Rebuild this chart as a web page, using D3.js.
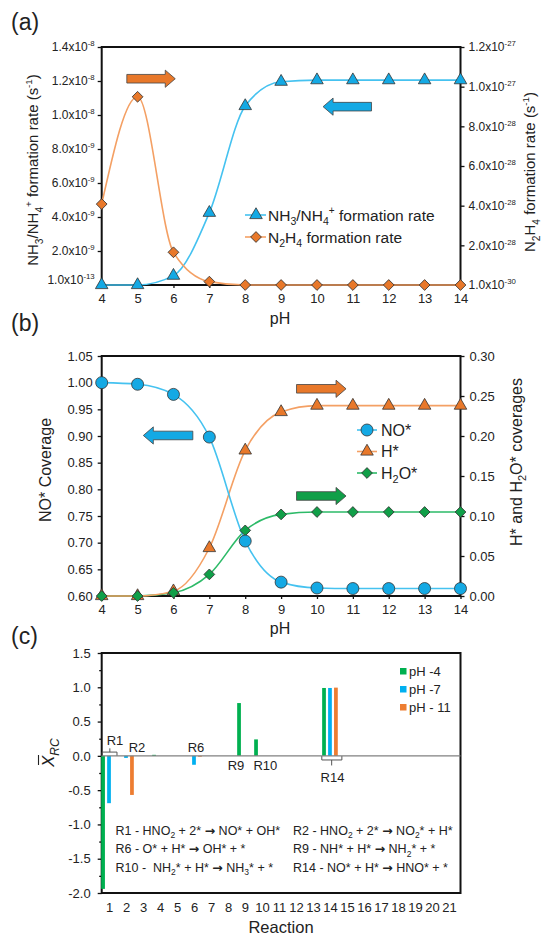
<!DOCTYPE html>
<html>
<head>
<meta charset="utf-8">
<script src="https://cdn.jsdelivr.net/npm/d3@7"></script>
<style>
  body { margin: 0; background: #fff; }
  svg { display: block; }
  text { font-family: Arial, "Liberation Sans", sans-serif; fill: #222; }
</style>
</head>
<body>
<svg id="fig" width="543" height="936"></svg>
<script>
// ---------- data ----------
const pH = [4, 5, 6, 7, 8, 9, 10, 11, 12, 13, 14];

// (a) formation rates, s^-1
const nh3Rate  = [0, 0, 5.5e-10, 4.25e-9, 1.053e-8, 1.196e-8, 1.205e-8, 1.205e-8, 1.205e-8, 1.205e-8, 1.205e-8];
const n2h4Rate = [4.08e-28, 9.49e-28, 1.65e-28, 1.7e-29, 0, 0, 0, 0, 0, 0, 0];
const rateLeftTicks  = [1e-13, 2e-9, 4e-9, 6e-9, 8e-9, 1e-8, 1.2e-8, 1.4e-8];
const rateRightTicks = [1e-30, 2e-28, 4e-28, 6e-28, 8e-28, 1e-27, 1.2e-27];

// (b) surface coverages
const noCov  = [1.000, 0.997, 0.978, 0.898, 0.703, 0.626, 0.615, 0.614, 0.614, 0.614, 0.614];
const hCov   = [0, 0, 0.006, 0.060, 0.182, 0.230, 0.238, 0.238, 0.238, 0.238, 0.238];
const h2oCov = [0, 0, 0.004, 0.027, 0.082, 0.102, 0.105, 0.105, 0.105, 0.105, 0.105];
const noTicks = [0.60, 0.65, 0.70, 0.75, 0.80, 0.85, 0.90, 0.95, 1.00, 1.05];
const hTicks  = [0, 0.05, 0.10, 0.15, 0.20, 0.25, 0.30];

// (c) degree of rate control per reaction
const reactions = [1,2,3,4,5,6,7,8,9,10,11,12,13,14,15,16,17,18,19,20,21];
const xrcPH4  = [-1.94, 0, 0, 0.015, 0, 0, 0, 0, 0.77, 0.24, 0, 0, 0, 0.99, 0, 0, 0, 0, 0, 0, 0];
const xrcPH7  = [-0.69, -0.03, 0, 0, 0, -0.13, 0, 0, 0, 0, 0, 0, 0, 0.99, 0, 0, 0, 0, 0, 0, 0];
const xrcPH11 = [0, -0.57, 0, 0, 0, -0.012, 0, 0, 0, 0, 0, 0, 0, 0.995, 0, 0, 0, 0, 0, 0, 0];
const xrcSeriesNames = ["pH -4", "pH -7", "pH - 11"];
const xrcTicks = [-2.0, -1.5, -1.0, -0.5, 0.0, 0.5, 1.0, 1.5];
const xrcMinorTicks = [-1.75, -1.25, -0.75, -0.25, 0.25, 0.75, 1.25];
const reactionLabels = [
  { text: "R1",  r: 1.35,  v: 0.16 },
  { text: "R2",  r: 2.65,  v: 0.06 },
  { text: "R6",  r: 6.12,  v: 0.06 },
  { text: "R9",  r: 8.47,  v: -0.21 },
  { text: "R10", r: 10.2,  v: -0.21 },
  { text: "R14", r: 14.15, v: -0.38 }
];
const equationsLeft  = ["R1 - HNO_{2} + 2* \u2192 NO* + OH*", "R6 - O* + H* \u2192 OH* + *", "R10 -  NH_{2}* + H* \u2192 NH_{3}* + *"];
const equationsRight = ["R2 - HNO_{2} + 2* \u2192 NO_{2}* + H*", "R9 - NH* + H* \u2192 NH_{2}* + *", "R14 - NO* + H* \u2192 HNO* + *"];

// ---------- styles ----------
const C = {
  blueFill: "#14A9E4", blueLine: "#45C2F0",
  orangeFill: "#E8782A", orangeLine: "#F4A064",
  greenFill: "#109F48", greenLine: "#2DBA68",
  barGreen: "#00B050", barBlue: "#00B0F0", barOrange: "#ED7D31",
  edge: "#333"
};
const xL = 101.7, xR = 460.5;
const svg = d3.select("#fig");
svg.append("rect").attr("width", 543).attr("height", 936).attr("fill", "#fff");

// text with _{sub} and ^{sup} runs; arrows get a font with a fuller glyph
function rich(sel, str, fs) {
  const parts = str.split(/(_\{[^}]*\}|\^\{[^}]*\})/).filter(s => s.length);
  let shift = 0;
  parts.forEach(p => {
    let t, target, size;
    if (p.startsWith("_{")) { t = p.slice(2, -1); target = 0.28 * fs; size = 0.68 * fs; }
    else if (p.startsWith("^{")) { t = p.slice(2, -1); target = -0.42 * fs; size = 0.65 * fs; }
    else { t = p; target = 0; size = fs; }
    const pieces = t.split(/(\u2192)/).filter(s => s.length);
    pieces.forEach((piece, k) => {
      const ts = sel.append("tspan").attr("font-size", size).text(piece);
      if (piece === "\u2192") ts.attr("font-family", "'DejaVu Sans', sans-serif").attr("font-weight", "bold");
      if (k === 0 && target - shift !== 0) ts.attr("dy", target - shift);
    });
    shift = target;
  });
  return sel;
}
function richTicks(g, fs) {
  g.selectAll(".tick text").each(function () {
    const t = d3.select(this); const s = t.text();
    t.text(null); rich(t, s, fs);
  });
}
function styleAxis(g, fs) {
  g.select(".domain").remove();
  g.selectAll(".tick line").attr("stroke", "#111").attr("stroke-width", 1.3);
  g.selectAll(".tick text").attr("font-size", fs).attr("fill", "#222")
    .attr("font-family", "Arial, 'Liberation Sans', sans-serif");
}
function frame(top, bottom) {
  svg.append("rect").attr("x", xL).attr("y", top).attr("width", xR - xL).attr("height", bottom - top)
    .attr("fill", "none").attr("stroke", "#111").attr("stroke-width", 2);
}
function vTitle(x, y, str, fs) {
  const t = svg.append("text").attr("transform", `translate(${x + 0.36 * fs},${y}) rotate(-90)`)
    .attr("text-anchor", "middle").attr("font-size", fs);
  rich(t, str, fs);
}
function blockArrow(x0, x1, yc, color) {
  const dir = Math.sign(x1 - x0), bh = 4.3, hh = 8.6, hl = 10;
  const xh = x1 - dir * hl;
  const pts = [[x0, yc - bh], [xh, yc - bh], [xh, yc - hh], [x1, yc], [xh, yc + hh], [xh, yc + bh], [x0, yc + bh]];
  svg.append("path").attr("d", "M" + pts.map(p => p.join(",")).join("L") + "Z")
    .attr("fill", color).attr("stroke", "#444").attr("stroke-width", 0.8);
}
const expLabel = v => { const [m, e] = v.toExponential(1).split("e"); return `${m}x10^{${+e}}`; };
const sym = (type, size) => d3.symbol().type(type).size(size)();

// ---------- (a) ----------
{
  const top = 47, bottom = 285;
  const x = d3.scaleLinear().domain([4, 14]).range([xL, xR]);
  const yL = d3.scaleLinear().domain([0, 1.4e-8]).range([bottom, top]);
  const yR = d3.scaleLinear().domain([0, 1.2e-27]).range([bottom, top]);

  frame(top, bottom);
  const gx = svg.append("g").attr("transform", `translate(0,${bottom})`)
    .call(d3.axisBottom(x).tickValues(pH).tickSize(3).tickPadding(6).tickSizeOuter(0).tickFormat(d3.format("d")));
  styleAxis(gx, 13);
  const gl = svg.append("g").attr("transform", `translate(${xL},0)`)
    .call(d3.axisLeft(yL).tickValues(rateLeftTicks).tickSize(4).tickPadding(3).tickSizeOuter(0).tickFormat(expLabel));
  styleAxis(gl, 12); richTicks(gl, 12);
  gl.selectAll(".tick text").filter(d => d === 1e-13).attr("dy", "-0.15em");
  const gr = svg.append("g").attr("transform", `translate(${xR},0)`)
    .call(d3.axisRight(yR).tickValues(rateRightTicks).tickSize(4).tickPadding(4).tickSizeOuter(0).tickFormat(expLabel));
  styleAxis(gr, 12); richTicks(gr, 12);

  const lineL = d3.line().x((d, i) => x(pH[i])).y(d => yL(d)).curve(d3.curveMonotoneX);
  const lineR = d3.line().x((d, i) => x(pH[i])).y(d => yR(d)).curve(d3.curveMonotoneX);
  svg.append("path").attr("d", lineL(nh3Rate)).attr("fill", "none").attr("stroke", C.blueLine).attr("stroke-width", 1.6);
  svg.append("path").attr("d", lineR(n2h4Rate)).attr("fill", "none").attr("stroke", C.orangeLine).attr("stroke-width", 1.6);

  svg.append("g").selectAll("path").data(nh3Rate).join("path")
    .attr("transform", (d, i) => `translate(${x(pH[i])},${yL(d)})`)
    .attr("d", sym(d3.symbolTriangle, 68)).attr("fill", C.blueFill).attr("stroke", C.edge).attr("stroke-width", 0.8);
  svg.append("g").selectAll("path").data(n2h4Rate).join("path")
    .attr("transform", (d, i) => `translate(${x(pH[i])},${yR(d)}) rotate(45)`)
    .attr("d", sym(d3.symbolSquare, 58)).attr("fill", C.orangeFill).attr("stroke", C.edge).attr("stroke-width", 0.8);

  blockArrow(x(4.7), x(6.05), yR(1.04e-27), C.orangeFill);
  blockArrow(x(11.52), x(10.17), yL(1.049e-8), C.blueFill);

  // legend
  const leg = [
    { label: "NH_{3}/NH_{4}^{+} formation rate", line: C.blueLine, fill: C.blueFill, kind: "tri" },
    { label: "N_{2}H_{4} formation rate", line: C.orangeLine, fill: C.orangeFill, kind: "dia" }
  ];
  leg.forEach((e, i) => {
    const yc = 215 + i * 22;
    svg.append("line").attr("x1", 245).attr("x2", 266).attr("y1", yc).attr("y2", yc).attr("stroke", e.line).attr("stroke-width", 1.6);
    svg.append("path").attr("transform", `translate(256,${yc})${e.kind === "dia" ? " rotate(45)" : ""}`)
      .attr("d", e.kind === "tri" ? sym(d3.symbolTriangle, 68) : sym(d3.symbolSquare, 58))
      .attr("fill", e.fill).attr("stroke", C.edge).attr("stroke-width", 0.8);
    rich(svg.append("text").attr("x", 268).attr("y", yc + 5.5).attr("font-size", 15.5), e.label, 15.5);
  });

  svg.append("text").attr("x", 280).attr("y", 324).attr("text-anchor", "middle").attr("font-size", 16).text("pH");
  vTitle(33, 170, "NH_{3}/NH_{4}^{+} formation rate (s^{-1})", 15);
  vTitle(530, 172, "N_{2}H_{4} formation rate (s^{-1})", 15);
  svg.append("text").attr("x", 11).attr("y", 30).attr("font-size", 23).text("(a)");
}

// ---------- (b) ----------
{
  const top = 356, bottom = 596;
  const x = d3.scaleLinear().domain([4, 14]).range([xL, xR]);
  const yL = d3.scaleLinear().domain([0.60, 1.05]).range([bottom, top]);
  const yR = d3.scaleLinear().domain([0, 0.30]).range([bottom, top]);

  frame(top, bottom);
  const gx = svg.append("g").attr("transform", `translate(0,${bottom})`)
    .call(d3.axisBottom(x).tickValues(pH).tickSize(3).tickPadding(6).tickSizeOuter(0).tickFormat(d3.format("d")));
  styleAxis(gx, 13);
  const gl = svg.append("g").attr("transform", `translate(${xL},0)`)
    .call(d3.axisLeft(yL).tickValues(noTicks).tickSize(4).tickPadding(5).tickSizeOuter(0).tickFormat(d => d.toFixed(2)));
  styleAxis(gl, 13);
  const gr = svg.append("g").attr("transform", `translate(${xR},0)`)
    .call(d3.axisRight(yR).tickValues(hTicks).tickSize(4).tickPadding(5).tickSizeOuter(0).tickFormat(d => d.toFixed(2)));
  styleAxis(gr, 13);

  const mk = (y) => d3.line().x((d, i) => x(pH[i])).y(d => y(d)).curve(d3.curveMonotoneX);
  svg.append("path").attr("d", mk(yR)(h2oCov)).attr("fill", "none").attr("stroke", C.greenLine).attr("stroke-width", 1.6);
  svg.append("path").attr("d", mk(yR)(hCov)).attr("fill", "none").attr("stroke", C.orangeLine).attr("stroke-width", 1.6);
  svg.append("path").attr("d", mk(yL)(noCov)).attr("fill", "none").attr("stroke", C.blueLine).attr("stroke-width", 1.6);

  svg.append("g").selectAll("path").data(hCov).join("path")
    .attr("transform", (d, i) => `translate(${x(pH[i])},${yR(d)})`)
    .attr("d", sym(d3.symbolTriangle, 68)).attr("fill", C.orangeFill).attr("stroke", C.edge).attr("stroke-width", 0.8);
  svg.append("g").selectAll("path").data(h2oCov).join("path")
    .attr("transform", (d, i) => `translate(${x(pH[i])},${yR(d)}) rotate(45)`)
    .attr("d", sym(d3.symbolSquare, 58)).attr("fill", C.greenFill).attr("stroke", C.edge).attr("stroke-width", 0.8);
  svg.append("g").selectAll("circle").data(noCov).join("circle")
    .attr("cx", (d, i) => x(pH[i])).attr("cy", d => yL(d)).attr("r", 6)
    .attr("fill", C.blueFill).attr("stroke", C.edge).attr("stroke-width", 0.8);

  blockArrow(x(6.54), x(5.16), yL(0.901), C.blueFill);
  blockArrow(x(9.43), x(10.81), yR(0.259), C.orangeFill);
  blockArrow(x(9.43), x(10.81), yR(0.125), C.greenFill);

  const leg = [
    { label: "NO*", line: C.blueLine, fill: C.blueFill, kind: "circ" },
    { label: "H*", line: C.orangeLine, fill: C.orangeFill, kind: "tri" },
    { label: "H_{2}O*", line: C.greenLine, fill: C.greenFill, kind: "dia" }
  ];
  leg.forEach((e, i) => {
    const yc = 430 + i * 21.5;
    svg.append("line").attr("x1", 357).attr("x2", 377).attr("y1", yc).attr("y2", yc).attr("stroke", e.line).attr("stroke-width", 1.6);
    if (e.kind === "circ") {
      svg.append("circle").attr("cx", 367).attr("cy", yc).attr("r", 6).attr("fill", e.fill).attr("stroke", C.edge).attr("stroke-width", 0.8);
    } else {
      svg.append("path").attr("transform", `translate(367,${yc})${e.kind === "dia" ? " rotate(45)" : ""}`)
        .attr("d", e.kind === "tri" ? sym(d3.symbolTriangle, 68) : sym(d3.symbolSquare, 58))
        .attr("fill", e.fill).attr("stroke", C.edge).attr("stroke-width", 0.8);
    }
    rich(svg.append("text").attr("x", 381).attr("y", yc + 5.8).attr("font-size", 16), e.label, 16);
  });

  svg.append("text").attr("x", 280).attr("y", 634).attr("text-anchor", "middle").attr("font-size", 16).text("pH");
  vTitle(45, 470, "NO* Coverage", 16);
  vTitle(516, 462, "H* and H_{2}O* coverages", 16);
  svg.append("text").attr("x", 11).attr("y", 331).attr("font-size", 23).text("(b)");
}

// ---------- (c) ----------
{
  const top = 653, bottom = 893;
  const x = d3.scaleLinear().domain([0.57, 21.68]).range([xL, xR]);
  const y = d3.scaleLinear().domain([-2.0, 1.5]).range([bottom, top]);

  frame(top, bottom);
  const gx = svg.append("g").attr("transform", `translate(0,${bottom})`)
    .call(d3.axisBottom(x).tickValues(reactions).tickSize(0).tickPadding(10).tickFormat(d3.format("d")));
  styleAxis(gx, 13);
  const gl = svg.append("g").attr("transform", `translate(${xL},0)`)
    .call(d3.axisLeft(y).tickValues(xrcTicks).tickSize(4).tickPadding(7).tickSizeOuter(0).tickFormat(d => d.toFixed(1)));
  styleAxis(gl, 13);
  const gm = svg.append("g").attr("transform", `translate(${xL},0)`)
    .call(d3.axisLeft(y).tickValues(xrcMinorTicks).tickSize(2.5).tickFormat(""));
  styleAxis(gm, 13);

  const series = [xrcPH4, xrcPH7, xrcPH11];
  const colors = [C.barGreen, C.barBlue, C.barOrange];
  const offs = [-0.35, 0, 0.35], bw = 0.22;
  series.forEach((vals, s) => {
    svg.append("g").selectAll("rect")
      .data(reactions.map((r, i) => ({ r, v: vals[i] })).filter(d => d.v !== 0))
      .join("rect")
      .attr("x", d => x(d.r + offs[s] - bw / 2))
      .attr("width", x(bw) - x(0))
      .attr("y", d => y(Math.max(d.v, 0)))
      .attr("height", d => Math.abs(y(d.v) - y(0)))
      .attr("fill", colors[s]);
  });
  svg.append("line").attr("x1", xL).attr("x2", xR).attr("y1", y(0)).attr("y2", y(0))
    .attr("stroke", "#808080").attr("stroke-width", 1.2);

  // braces grouping the bars of a reaction
  const brace = (r0, r1, rm, vBar, vEnd, vTip) => {
    const d = `M${x(r0)},${y(vEnd)}L${x(r0)},${y(vBar)}L${x(r1)},${y(vBar)}L${x(r1)},${y(vEnd)}` +
              `M${x(rm)},${y(vBar)}L${x(rm)},${y(vTip)}`;
    svg.append("path").attr("d", d).attr("fill", "none").attr("stroke", "#555").attr("stroke-width", 1);
  };
  brace(0.6, 1.47, 1.05, 0.055, 0.005, 0.11);
  brace(13.52, 14.7, 14.1, -0.06, -0.005, -0.14);

  reactionLabels.forEach(l => {
    svg.append("text").attr("x", x(l.r)).attr("y", y(l.v)).attr("text-anchor", "middle")
      .attr("font-size", 13).text(l.text);
  });

  // legend
  xrcSeriesNames.forEach((n, i) => {
    const yc = 671.5 + i * 18;
    svg.append("rect").attr("x", 400).attr("y", yc - 3.5).attr("width", 6.5).attr("height", 6.5).attr("fill", colors[i]);
    svg.append("text").attr("x", 409).attr("y", yc + 4.5).attr("font-size", 13).text(n);
  });

  // reaction key
  [equationsLeft, equationsRight].forEach((col, c) => {
    col.forEach((eq, i) => {
      const t = svg.append("text").attr("x", c === 0 ? 115.5 : 293).attr("y", 834.5 + i * 18.5)
        .attr("font-size", 12.5).style("white-space", "pre");
      rich(t, eq, 12.5);
    });
  });

  svg.append("text").attr("x", 281).attr("y", 933).attr("text-anchor", "middle").attr("font-size", 16.5).text("Reaction");

  // y title: X-bar with subscript RC
  const yt = svg.append("g").attr("transform", "translate(54,752) rotate(-90)");
  const tt = yt.append("text").attr("x", -15).attr("y", 0).attr("font-size", 17).attr("font-style", "italic");
  tt.append("tspan").text("X");
  tt.append("tspan").attr("dy", 4.5).attr("font-size", 12).text("RC");
  yt.append("line").attr("x1", -13).attr("x2", -3).attr("y1", -15.5).attr("y2", -15.5).attr("stroke", "#222").attr("stroke-width", 1.1);

  svg.append("text").attr("x", 11).attr("y", 644).attr("font-size", 23).text("(c)");
}
</script>
</body>
</html>
